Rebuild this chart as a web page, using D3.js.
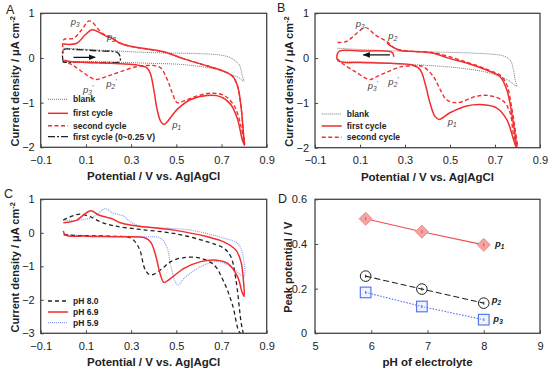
<!DOCTYPE html>
<html>
<head>
<meta charset="utf-8">
<script src="https://d3js.org/d3.v7.min.js"></script>
<style>
  body { margin: 0; background: #fff; }
  svg text { font-family: "Liberation Sans", Arial, sans-serif; fill: #222; }
  .tick text { font-size: 11px; }
  .title { font-size: 11.5px; font-weight: bold; }
  .ytitle { font-size: 11px; font-weight: bold; }
  .leg { font-size: 8.5px; font-weight: bold; }
  .pk { font-size: 9.5px; font-style: italic; fill: #444; }
  .pkd { font-size: 9.5px; font-style: italic; font-weight: bold; fill: #222; }
  .letter { font-size: 12.5px; }
</style>
</head>
<body>
<script>
// ---- data ----
const cvTicksX = [-0.1, 0.1, 0.3, 0.5, 0.7, 0.9];
const cvTicksY_AB = [1, 0, -1, -2];
const cvTicksY_C = [1, 0, -1, -2, -3];
const phTicksX = [5, 6, 7, 8, 9];
const phTicksY = [0, 0.2, 0.4, 0.6];

// panel A
const blankA = [[0,0.22],[0.15,0.18],[0.386,0.12],[0.608,0.095],[0.70,0.06],[0.741,0.0],[0.778,-0.15],[0.793,-0.42],[0.8,-0.53],
  [0.78,-0.45],[0.741,-0.37],[0.682,-0.26],[0.534,-0.15],[0.386,-0.12],[0.2,-0.09],[0,-0.075]];
const firstA = [[0,0.31],[0.06,0.33],[0.097,0.52],[0.127,0.63],[0.164,0.56],[0.193,0.48],[0.216,0.44],[0.252,0.33],[0.297,0.26],
  [0.371,0.2],[0.45,0.13],[0.534,-0.02],[0.638,-0.18],[0.712,-0.3],[0.749,-0.41],[0.771,-0.63],[0.786,-1.07],[0.798,-1.74],[0.802,-1.95],
  [0.793,-1.85],[0.771,-1.37],[0.741,-1.04],[0.697,-0.87],[0.638,-0.84],[0.564,-0.93],[0.504,-1.15],[0.445,-1.49],[0.43,-1.41],
  [0.415,-1.15],[0.4,-0.7],[0.386,-0.36],[0.37,-0.22],[0.33,-0.16],[0.252,-0.13],[0.1,-0.1],[0.045,-0.09],[0.005,-0.05]];
const secondA = [[0,0.1],[0.002,0.41],[0.045,0.44],[0.082,0.63],[0.116,0.83],[0.171,0.56],[0.216,0.44],[0.252,0.33],[0.297,0.26],
  [0.371,0.2],[0.45,0.13],[0.534,-0.02],[0.638,-0.18],[0.712,-0.3],[0.749,-0.41],[0.771,-0.63],[0.786,-1.07],[0.798,-1.74],[0.802,-1.95],
  [0.786,-1.52],[0.756,-1.07],[0.712,-0.84],[0.652,-0.79],[0.593,-0.85],[0.534,-0.96],[0.504,-1.0],[0.482,-0.78],[0.46,-0.48],
  [0.43,-0.22],[0.4,-0.17],[0.37,-0.17],[0.327,-0.19],[0.252,-0.31],[0.193,-0.41],[0.141,-0.48],[0.089,-0.33],[0.038,-0.15],[0.003,-0.07]];
const smallA = [[0,-0.1],[0,0.18],[0.05,0.19],[0.15,0.16],[0.24,0.12],[0.25,0.05],[0.25,-0.08],[0.2,-0.1],[0.1,-0.1],[0,-0.1]];
const arrowA = [[0.045,0.014],[0.141,0.014]];

// panel B
const blankB = [[0,0.22],[0.15,0.18],[0.315,0.15],[0.61,0.11],[0.7,0.08],[0.737,0.05],[0.767,-0.04],[0.782,-0.26],[0.79,-0.5],[0.797,-0.63],
  [0.767,-0.52],[0.722,-0.41],[0.648,-0.3],[0.5,-0.2],[0.278,-0.13],[0.15,-0.09],[0,-0.08]];
const firstB = [[0.25,0.03],[0.245,0.12],[0.23,0.15],[0.1,0.16],[0.01,0.16],[0,0.1],[0,-0.04],[0.02,-0.09],[0.1,-0.1],[0.25,-0.12],
  [0.33,-0.15],[0.367,-0.26],[0.389,-0.56],[0.411,-1.0],[0.433,-1.3],[0.452,-1.37],[0.5,-1.22],[0.574,-1.07],[0.648,-1.04],
  [0.707,-1.11],[0.752,-1.37],[0.782,-1.81],[0.795,-2.0],
  [0.774,-1.22],[0.752,-0.7],[0.722,-0.41],[0.678,-0.3],[0.574,-0.11],[0.493,0.0],[0.426,0.11],[0.344,0.15],[0.278,0.17],[0.24,0.26],[0.22,0.34]];
const secondB = [[0,0.35],[0.04,0.37],[0.078,0.52],[0.125,0.68],[0.167,0.52],[0.218,0.37],[0.256,0.22],[0.315,0.16],[0.426,0.12],
  [0.574,-0.09],[0.678,-0.28],[0.722,-0.38],[0.752,-0.59],[0.774,-1.1],[0.79,-1.6],[0.8,-1.98],
  [0.782,-1.7],[0.767,-1.22],[0.737,-0.96],[0.678,-0.84],[0.619,-0.85],[0.53,-1.0],[0.485,-0.93],[0.456,-0.7],[0.426,-0.41],
  [0.381,-0.19],[0.36,-0.17],[0.285,-0.19],[0.225,-0.3],[0.167,-0.43],[0.144,-0.48],[0.078,-0.3],[0.019,-0.11],[0,-0.02]];
const arrowB = [[0.233,0.073],[0.115,0.073]];

// panel C
const ph80 = [[0,0.38],[0.045,0.51],[0.075,0.56],[0.119,0.48],[0.163,0.33],[0.223,0.21],[0.34,0.1],[0.49,-0.02],[0.638,-0.27],
  [0.71,-0.46],[0.741,-0.71],[0.763,-1.36],[0.786,-2.65],[0.795,-3.05],
  [0.778,-2.95],[0.749,-2.16],[0.71,-1.46],[0.667,-0.96],[0.608,-0.76],[0.534,-0.74],[0.475,-0.86],[0.43,-1.11],[0.386,-1.26],
  [0.363,-1.11],[0.341,-0.56],[0.327,-0.36],[0.3,-0.16],[0.2,-0.1],[0.05,-0.08],[0,-0.05]];
const ph69 = [[0,0.3],[0.06,0.38],[0.089,0.53],[0.122,0.66],[0.156,0.53],[0.193,0.46],[0.215,0.42],[0.252,0.3],[0.311,0.22],
  [0.4,0.15],[0.49,0.08],[0.638,-0.12],[0.71,-0.27],[0.763,-0.51],[0.786,-0.86],[0.798,-1.5],[0.8,-1.9],
  [0.79,-1.75],[0.771,-1.31],[0.727,-0.91],[0.667,-0.81],[0.608,-0.86],[0.534,-1.06],[0.475,-1.36],[0.445,-1.48],[0.43,-1.26],
  [0.408,-0.66],[0.386,-0.27],[0.36,-0.15],[0.25,-0.12],[0.1,-0.1],[0.01,-0.07],[0,0.06]];
const ph59 = [[0,0.38],[0.075,0.38],[0.134,0.48],[0.186,0.72],[0.215,0.61],[0.245,0.54],[0.267,0.5],[0.297,0.33],[0.341,0.2],
  [0.45,0.14],[0.563,0.08],[0.71,-0.16],[0.77,-0.31],[0.793,-0.61],[0.8,-1.3],
  [0.786,-1.26],[0.741,-1.01],[0.682,-0.86],[0.608,-1.01],[0.534,-1.36],[0.51,-1.56],[0.497,-1.48],[0.475,-0.96],[0.46,-0.46],
  [0.43,-0.16],[0.35,-0.12],[0.2,-0.1],[0,-0.06]];

// panel D
const phValues = [5.9, 6.9, 8.0];
const peakP1 = [0.513, 0.455, 0.396];
const peakP2 = [0.256, 0.198, 0.135];
const peakP3 = [0.183, 0.12, 0.061];

// ---- drawing ----
const W = 550, H = 372;
const svg = d3.select("body").append("svg").attr("width", W).attr("height", H);
const defs = svg.append("defs");
defs.append("marker").attr("id", "arr").attr("viewBox", "0 0 10 10")
  .attr("refX", 9).attr("refY", 5).attr("markerWidth", 6).attr("markerHeight", 6)
  .attr("orient", "auto")
  .append("path").attr("d", "M0,1 L10,5 L0,9 Z").attr("fill", "#111");

const RED = "#f22d2d";
const styles = {
  blank:  { stroke: "#7a7a7a", width: 1, dash: "1,1" },
  first:  { stroke: RED, width: 1.5, dash: null },
  second: { stroke: RED, width: 1.4, dash: "4,2.5" },
  small:  { stroke: "#222", width: 1.3, dash: "7,2,2,2" },
  ph80:   { stroke: "#222", width: 1.3, dash: "4,3" },
  ph69:   { stroke: RED, width: 1.5, dash: null },
  ph59:   { stroke: "#8ea0f0", width: 1.2, dash: "1,1" }
};

let clipId = 0;
function panel(box, xd, yd, xt, yt, fmt, yPad) {
  const x = d3.scaleLinear().domain(xd).range([box.l, box.r]);
  const y = d3.scaleLinear().domain(yd).range([box.b, box.t]);
  const g = svg.append("g");
  g.append("g").attr("transform", `translate(0,${box.b})`)
    .call(d3.axisBottom(x).tickValues(xt).tickSize(-3).tickPadding(9).tickFormat(fmt.x))
    .call(a => a.select(".domain").remove())
    .call(a => a.selectAll("line").attr("stroke", "#444"));
  g.append("g").attr("transform", `translate(${box.l},0)`)
    .call(d3.axisLeft(y).tickValues(yt).tickSize(-3).tickPadding(yPad).tickFormat(fmt.y))
    .call(a => a.select(".domain").remove())
    .call(a => a.selectAll("line").attr("stroke", "#444"));
  g.selectAll(".tick text").attr("fill", "#222");
  const id = "clip" + (clipId++);
  defs.append("clipPath").attr("id", id).append("rect")
    .attr("x", box.l).attr("y", box.t).attr("width", box.r - box.l).attr("height", box.b - box.t);
  const plot = g.append("g").attr("clip-path", `url(#${id})`);
  g.append("rect").attr("x", box.l).attr("y", box.t).attr("width", box.r - box.l).attr("height", box.b - box.t)
    .attr("fill", "none").attr("stroke", "#444").attr("stroke-width", 1.3);
  return { x, y, g, plot, box };
}

function curve(p, data, st) {
  const line = d3.line().x(d => p.x(d[0])).y(d => p.y(d[1])).curve(d3.curveCatmullRom.alpha(0.5));
  p.plot.append("path").datum(data).attr("d", line).attr("fill", "none")
    .attr("stroke", st.stroke).attr("stroke-width", st.width).attr("stroke-dasharray", st.dash);
}

function arrow(p, data) {
  p.plot.append("line")
    .attr("x1", p.x(data[0][0])).attr("y1", p.y(data[0][1]))
    .attr("x2", p.x(data[1][0])).attr("y2", p.y(data[1][1]))
    .attr("stroke", "#111").attr("stroke-width", 1.2).attr("marker-end", "url(#arr)");
}

function legend(x0, rows) {
  rows.forEach(r => {
    const st = styles[r.key];
    svg.append("line").attr("x1", x0).attr("x2", x0 + 20).attr("y1", r.y).attr("y2", r.y)
      .attr("stroke", st.stroke).attr("stroke-width", st.width).attr("stroke-dasharray", st.dash);
    svg.append("text").attr("class", "leg").attr("x", x0 + 25).attr("y", r.y).attr("dy", "0.35em").text(r.label);
  });
}

function peakLabel(p, px, py, sub, prime, cls) {
  const t = p.g.append("text").attr("class", cls || "pk").attr("x", p.x(px)).attr("y", p.y(py)).attr("dy", "0.35em");
  t.append("tspan").text("p");
  t.append("tspan").attr("font-size", "6.5px").attr("dy", "2").text(sub);
  if (prime) t.append("tspan").attr("font-size", "7px").attr("dy", "-5").text("'");
}

function titles(box, yTitle, xTitle, yx) {
  svg.append("text").attr("class", "title").attr("text-anchor", "middle")
    .attr("x", (box.l + box.r) / 2).attr("y", box.b + 33).text(xTitle);
  const t = svg.append("text").attr("class", "ytitle").attr("text-anchor", "middle")
    .attr("transform", `translate(${yx},${(box.t + box.b) / 2 + 1}) rotate(-90)`);
  t.append("tspan").text(yTitle.main);
  if (yTitle.sup) t.append("tspan").attr("font-size", "7.5px").attr("dy", "-4.5").text(yTitle.sup);
}

const fmtCV = { x: d3.format(".1f"), y: d3.format("d") };
const cvY = { main: "Current density / \u03bcA cm", sup: "-2" };
const cvX = "Potential / V vs. Ag|AgCl";

// A
const boxA = { l: 40.7, r: 266.7, t: 13.3, b: 147.3 };
const pA = panel(boxA, [-0.1, 0.9], [-2, 1], cvTicksX, cvTicksY_AB, fmtCV, 6);
curve(pA, blankA, styles.blank);
curve(pA, smallA, styles.small);
curve(pA, secondA, styles.second);
curve(pA, firstA, styles.first);
arrow(pA, arrowA);
peakLabel(pA, 0.033, 0.81, "3");
peakLabel(pA, 0.193, 0.47, "2");
peakLabel(pA, 0.087, -0.70, "3", true);
peakLabel(pA, 0.19, -0.57, "2", true);
peakLabel(pA, 0.482, -1.5, "1");
titles(boxA, cvY, cvX, 19);
legend(48, [
  { key: "blank", label: "blank", y: 99.3 },
  { key: "first", label: "first cycle", y: 113.3 },
  { key: "second", label: "second cycle", y: 125.7 },
  { key: "small", label: "first cycle (0~0.25 V)", y: 136.7 }
]);
svg.append("text").attr("class", "letter").attr("x", 6).attr("y", 14).text("A");

// B
const boxB = { l: 315, r: 540, t: 13.3, b: 147.7 };
const pB = panel(boxB, [-0.1, 0.9], [-2, 1], cvTicksX, cvTicksY_AB, fmtCV, 6);
curve(pB, blankB, styles.blank);
curve(pB, secondB, styles.second);
curve(pB, firstB, styles.first);
arrow(pB, arrowB);
peakLabel(pB, 0.081, 0.76, "3");
peakLabel(pB, 0.226, 0.49, "2");
peakLabel(pB, 0.134, -0.61, "3", true);
peakLabel(pB, 0.226, -0.52, "2", true);
peakLabel(pB, 0.49, -1.41, "1");
titles(boxB, cvY, cvX, 293);
legend(321.7, [
  { key: "blank", label: "blank", y: 114 },
  { key: "first", label: "first cycle", y: 126 },
  { key: "second", label: "second cycle", y: 137.3 }
]);
svg.append("text").attr("class", "letter").attr("x", 277).attr("y", 12).text("B");

// C
const boxC = { l: 40.7, r: 266.7, t: 199.3, b: 333.3 };
const pC = panel(boxC, [-0.1, 0.9], [-3, 1], cvTicksX, cvTicksY_C, fmtCV, 6);
curve(pC, ph59, styles.ph59);
curve(pC, ph80, styles.ph80);
curve(pC, ph69, styles.ph69);
titles(boxC, cvY, cvX, 19);
legend(48, [
  { key: "ph80", label: "pH 8.0", y: 301 },
  { key: "ph69", label: "pH 6.9", y: 312 },
  { key: "ph59", label: "pH 5.9", y: 322.7 }
]);
svg.append("text").attr("class", "letter").attr("x", 4).attr("y", 198).text("C");

// D
const boxD = { l: 315, r: 540, t: 199.3, b: 333.3 };
const pD = panel(boxD, [5, 9], [0, 0.6], phTicksX, phTicksY, { x: d3.format("d"), y: d => d === 0 ? "0" : d3.format(".1f")(d) }, 8);
const seriesD = [
  { vals: peakP1, stroke: "#f04a4a", dash: null, shape: "diamond" },
  { vals: peakP2, stroke: "#222", dash: "6,3", shape: "circle" },
  { vals: peakP3, stroke: "#4f6fe8", dash: "1.5,1.5", shape: "square" }
];
seriesD.forEach(s => {
  const pts = phValues.map((v, i) => [v, s.vals[i]]);
  pD.plot.append("path").datum(pts)
    .attr("d", d3.line().x(d => pD.x(d[0])).y(d => pD.y(d[1])))
    .attr("fill", "none").attr("stroke", s.stroke).attr("stroke-width", 1.1).attr("stroke-dasharray", s.dash);
  pts.forEach(d => {
    const cx = pD.x(d[0]), cy = pD.y(d[1]);
    if (s.shape === "diamond") {
      pD.g.append("path").attr("d", `M${cx},${cy - 6.5}L${cx + 6.5},${cy}L${cx},${cy + 6.5}L${cx - 6.5},${cy}Z`)
        .attr("fill", "#f4a3a3").attr("stroke", "#f28a8a").attr("stroke-width", 1);
    } else if (s.shape === "circle") {
      pD.g.append("circle").attr("cx", cx).attr("cy", cy).attr("r", 5.3)
        .attr("fill", "none").attr("stroke", "#222").attr("stroke-width", 1);
    } else {
      pD.g.append("rect").attr("x", cx - 5.3).attr("y", cy - 5.3).attr("width", 10.6).attr("height", 10.6)
        .attr("fill", "rgba(210,220,255,0.35)").attr("stroke", "#5a78ee").attr("stroke-width", 1.2);
    }
    pD.g.append("line").attr("x1", cx).attr("x2", cx).attr("y1", cy - 1.5).attr("y2", cy + 1.5)
      .attr("stroke", s.stroke).attr("stroke-width", 1);
  });
});
peakLabel(pD, 8.2, 0.403, "1", false, "pkd");
peakLabel(pD, 8.14, 0.149, "2", false, "pkd");
peakLabel(pD, 8.17, 0.065, "3", false, "pkd");
titles(boxD, { main: "Peak potential / V" }, "pH of electrolyte", 292);
svg.append("text").attr("class", "letter").attr("x", 278).attr("y", 203).text("D");
</script>
</body>
</html>
